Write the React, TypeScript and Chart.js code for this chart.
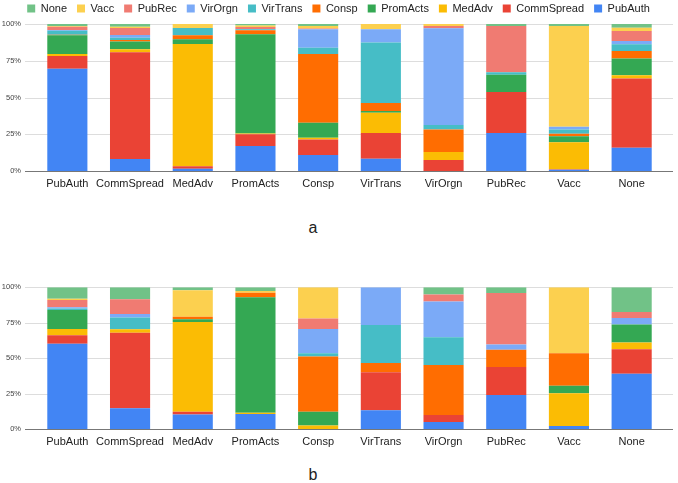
import React, { useEffect, useRef } from 'react';
import { Chart, registerables } from 'chart.js';

Chart.register(...registerables);

const categories = ['PubAuth', 'CommSpread', 'MedAdv', 'PromActs', 'Consp', 'VirTrans', 'VirOrgn', 'PubRec', 'Vacc', 'None'];
const seriesNames = ['PubAuth', 'CommSpread', 'MedAdv', 'PromActs', 'Consp', 'VirTrans', 'VirOrgn', 'PubRec', 'Vacc', 'None'];
const seriesColors = ['#4285F4', '#EA4335', '#FBBC04', '#34A853', '#FF6D01', '#46BDC6', '#7BAAF7', '#F07B72', '#FCD04F', '#71C287'];
const yTicks = [0, 25, 50, 75, 100];
const panelLabels = ['a', 'b'];

// Panel a (values per category, in category order)
const aPubAuth = [69.4, 8.2, 1.5, 17.0, 10.9, 8.4, 0, 25.9, 0.9, 15.9];
const aCommSpread = [8.6, 72.8, 1.8, 7.9, 10.6, 17.5, 7.5, 27.8, 0.3, 47.1];
const aMedAdv = [1.4, 2.0, 83.1, 0.4, 1.2, 13.8, 5.4, 0, 18.4, 2.1];
const aPromActs = [12.7, 5.3, 3.2, 67.2, 10.2, 1.1, 0, 11.8, 4.1, 11.5];
const aConsp = [0.4, 1.0, 2.7, 2.7, 46.7, 5.5, 15.4, 0, 1.6, 5.0];
const aVirTrans = [2.8, 1.6, 5.0, 0.7, 4.3, 41.2, 3.0, 1.6, 3.0, 4.6];
const aVirOrgn = [0.4, 1.8, 0, 0.3, 12.5, 8.9, 65.8, 0, 1.8, 2.2];
const aPubRec = [2.3, 4.8, 0, 1.3, 0.6, 0, 1.5, 31.5, 0, 6.8];
const aVacc = [0.4, 0.8, 2.7, 1.0, 1.7, 3.6, 1.4, 0, 68.5, 2.3];
const aNone = [1.4, 1.9, 0, 1.0, 1.3, 0, 0, 1.4, 1.4, 2.5];

// Panel b
const bPubAuth = [60.2, 14.7, 10.3, 10.5, 0, 13.3, 5.0, 23.9, 2.2, 39.0];
const bCommSpread = [6.0, 53.3, 1.8, 0, 0, 26.7, 4.9, 19.8, 0, 17.3];
const bMedAdv = [4.4, 2.4, 63.4, 1.0, 2.4, 0, 0, 0, 23.0, 4.6];
const bPromActs = [13.3, 0, 2.0, 81.5, 9.7, 0, 0, 0, 5.4, 12.7];
const bConsp = [0, 0, 1.8, 3.2, 39.0, 6.5, 35.2, 12.2, 22.9, 0];
const bVirTrans = [1.2, 8.3, 0, 0, 2.4, 26.9, 19.7, 0, 0, 0];
const bVirOrgn = [0.8, 2.4, 0, 0, 17.1, 26.6, 25.1, 3.6, 0, 4.6];
const bPubRec = [5.2, 10.4, 0, 0, 7.3, 0, 5.1, 36.4, 0, 4.2];
const bVacc = [0.8, 0, 18.7, 1.2, 22.1, 0, 0, 0, 46.5, 0];
const bNone = [8.1, 8.5, 2.0, 2.6, 0, 0, 5.0, 4.0, 0, 17.5];

const panelA = [aPubAuth, aCommSpread, aMedAdv, aPromActs, aConsp, aVirTrans, aVirOrgn, aPubRec, aVacc, aNone];
const panelB = [bPubAuth, bCommSpread, bMedAdv, bPromActs, bConsp, bVirTrans, bVirOrgn, bPubRec, bVacc, bNone];

const FONT = "Arial, 'Liberation Sans', sans-serif";

function toPercent(series: number[][]): number[][] {
  const totals = categories.map((_, i) => series.reduce((acc, s) => acc + s[i], 0));
  return series.map((s) => s.map((v, i) => (totals[i] > 0 ? (v / totals[i]) * 100 : 0)));
}

const gridPlugin = {
  id: 'gglGrid',
  beforeDatasetsDraw(chart: any) {
    const y = chart.scales.y;
    const ctx = chart.ctx;
    const { left, right } = chart.chartArea;
    ctx.save();
    ctx.strokeStyle = '#dddddd';
    ctx.lineWidth = 1;
    yTicks.forEach((v) => {
      if (v === 0) return;
      const py = Math.round(y.getPixelForValue(v)) + 0.5;
      ctx.beginPath();
      ctx.moveTo(left - 11, py);
      ctx.lineTo(right + 10, py);
      ctx.stroke();
    });
    ctx.restore();
  },
  afterDatasetsDraw(chart: any) {
    const y = chart.scales.y;
    const ctx = chart.ctx;
    const { left, right } = chart.chartArea;
    const py = Math.round(y.getPixelForValue(0)) + 0.5;
    ctx.save();
    ctx.strokeStyle = '#777777';
    ctx.lineWidth = 1;
    ctx.beginPath();
    ctx.moveTo(left - 11, py);
    ctx.lineTo(right + 10, py);
    ctx.stroke();
    ctx.restore();
  },
};

const legendFitPlugin = {
  id: 'legendFit',
  beforeLayout(chart: any) {
    const lg: any = chart.legend;
    if (lg && !lg.__patched) {
      const orig = lg.fit;
      lg.fit = function () {
        orig.call(this);
        this.height = 24;
      };
      lg.__patched = true;
    }
  },
  afterLayout(chart: any) {
    const lg: any = chart.legend;
    if (lg && lg.options && lg.options.display) {
      lg.top -= 7;
      lg.bottom -= 7;
      lg.left += 7;
      lg.right += 7;
    }
  },
};

function buildConfig(series: number[][], showLegend: boolean, padTop: number): any {
  const pct = toPercent(series);
  return {
    type: 'bar',
    data: {
      labels: categories,
      datasets: seriesNames.map((name, i) => ({
        label: name,
        data: pct[i],
        backgroundColor: seriesColors[i],
        borderWidth: 0,
        barPercentage: 0.64,
        categoryPercentage: 1.0,
      })),
    },
    options: {
      responsive: false,
      animation: false,
      layout: { padding: { left: 0, right: 15, top: padTop, bottom: 0 } },
      plugins: {
        legend: {
          display: showLegend,
          position: 'top',
          reverse: true,
          labels: {
            boxWidth: 8,
            boxHeight: 8,
            padding: 10,
            color: '#222222',
            font: { family: FONT, size: 11 },
          },
        },
        tooltip: { enabled: false },
        title: { display: false },
      },
      scales: {
        x: {
          stacked: true,
          grid: { display: false, drawTicks: false },
          border: { display: false },
          ticks: {
            autoSkip: false,
            maxRotation: 0,
            minRotation: 0,
            padding: 6,
            color: '#222222',
            font: { family: FONT, size: 11 },
          },
          afterFit: (s: any) => {
            s.height = 29;
          },
        },
        y: {
          stacked: true,
          min: 0,
          max: 100,
          grid: { display: false, drawTicks: false },
          border: { display: false },
          ticks: {
            stepSize: 25,
            padding: 15,
            color: '#444444',
            font: { family: FONT, size: 7.5 },
            callback: (v: any) => v + '%',
          },
          afterFit: (s: any) => {
            s.width = 36;
          },
        },
      },
    },
    plugins: [gridPlugin, legendFitPlugin],
  };
}

function Panel({ series, showLegend, padTop, top, height }: { series: number[][]; showLegend: boolean; padTop: number; top: number; height: number }) {
  const ref = useRef<HTMLCanvasElement | null>(null);
  useEffect(() => {
    if (!ref.current) return;
    const chart = new Chart(ref.current, buildConfig(series, showLegend, padTop));
    return () => chart.destroy();
  }, []);
  return (
    <canvas
      ref={ref}
      width={678}
      height={height}
      style={{ position: 'absolute', left: 0, top, width: 678, height }}
    />
  );
}

export default function App() {
  return (
    <div style={{ position: 'fixed', left: 0, top: 0, width: 678, height: 483, background: '#ffffff', overflow: 'hidden' }}>
      <Panel series={panelA} showLegend={true} padTop={0} top={0} height={200} />
      <Panel series={panelB} showLegend={false} padTop={23.3} top={240} height={218} />
      <div style={{ position: 'absolute', left: 293, top: 219, width: 40, textAlign: 'center', fontFamily: FONT, fontSize: 16, color: '#222222', lineHeight: '18px' }}>
        {panelLabels[0]}
      </div>
      <div style={{ position: 'absolute', left: 293, top: 466, width: 40, textAlign: 'center', fontFamily: FONT, fontSize: 16, color: '#222222', lineHeight: '18px' }}>
        {panelLabels[1]}
      </div>
    </div>
  );
}
